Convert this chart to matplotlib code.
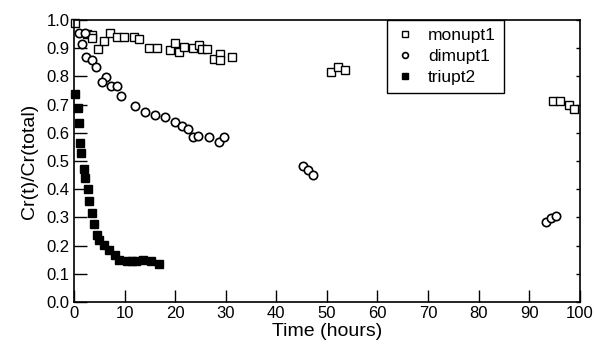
import matplotlib
matplotlib.use("Agg")
import matplotlib.pyplot as plt

plt.rcParams['font.family'] = ['Liberation Sans', 'DejaVu Sans']

# monupt1 (open squares)
mon_t = [0.2, 2.6, 3.6, 3.6, 4.7, 5.9, 7.1, 8.5, 9.9, 11.9, 12.8, 14.8, 16.4,
         19.0, 20.0, 20.8, 21.7, 23.5, 24.7, 25.3, 26.3, 27.7, 28.9, 28.9, 31.2,
         50.8, 52.2, 53.6, 94.7, 96.0, 97.8, 98.8]
mon_r = [0.99, 0.95, 0.947, 0.936, 0.897, 0.926, 0.954, 0.94, 0.94, 0.94, 0.933,
         0.90, 0.90, 0.894, 0.918, 0.887, 0.904, 0.90, 0.911, 0.897, 0.897, 0.862,
         0.879, 0.858, 0.869, 0.816, 0.833, 0.823, 0.713, 0.713, 0.699, 0.684]

# dimupt1 (open circles)
dim_t = [1.0, 2.2, 1.6, 2.4, 3.6, 4.3, 6.3, 5.5, 7.3, 8.5, 9.3, 12.1, 14.0, 16.0,
         18.0, 20.0, 21.3, 22.5, 23.5, 24.5, 26.7, 28.7, 29.6,
         45.3, 46.2, 47.2, 93.3, 94.3, 95.3]
dim_r = [0.954, 0.954, 0.915, 0.869, 0.858, 0.833, 0.798, 0.78, 0.766, 0.766, 0.73,
         0.695, 0.674, 0.663, 0.656, 0.638, 0.624, 0.613, 0.585, 0.589, 0.585,
         0.567, 0.585, 0.482, 0.468, 0.45, 0.284, 0.298, 0.305]

# triupt2 (filled squares)
tri_t = [0.2, 0.8, 1.0, 1.2, 1.4, 2.0, 2.2, 2.8, 3.0, 3.6, 4.0, 4.5, 4.9, 5.9,
         6.9, 8.1, 8.9, 10.5, 11.5, 12.3, 13.6, 15.2, 16.8]
tri_r = [0.738, 0.688, 0.635, 0.564, 0.528, 0.472, 0.44, 0.40, 0.358, 0.316,
         0.277, 0.238, 0.22, 0.202, 0.184, 0.167, 0.149, 0.145, 0.145, 0.145,
         0.149, 0.145, 0.135]

fig = plt.figure(figsize=(5.94, 3.48), dpi=100)
ax = fig.add_axes([0.1246, 0.132, 0.8514, 0.8105])

ax.plot(mon_t, mon_r, 's', ms=5.5, mfc='white', mec='black', mew=1.0,
        label='monupt1', clip_on=False)
ax.plot(dim_t, dim_r, 'o', ms=6, mfc='white', mec='black', mew=1.2,
        label='dimupt1', clip_on=False)
ax.plot(tri_t, tri_r, 's', ms=5.5, mfc='black', mec='black',
        label='triupt2', clip_on=False)

ax.set_xlim(0, 100)
ax.set_ylim(0, 1.0)
ax.set_xticks(range(0, 101, 10))
ax.set_yticks([i / 10 for i in range(11)])
ax.set_yticklabels([f"{i / 10:.1f}" for i in range(11)])
ax.tick_params(direction='in', length=9, width=1, labelsize=12, pad=3)
ax.tick_params(axis='y', right=True)
for t in ax.yaxis.get_major_ticks():
    t.tick2line.set_markersize(3)
for s in ax.spines.values():
    s.set_linewidth(1.2)

ax.set_xlabel('Time (hours)', fontsize=14, labelpad=1)
ax.set_ylabel('Cr(t)/Cr(total)', fontsize=14, labelpad=6)

leg = ax.legend(loc='upper left', bbox_to_anchor=(0.619, 1.0), fontsize=12.5,
                fancybox=False, framealpha=1, edgecolor='black',
                markerscale=0.7, handlelength=1.2, handletextpad=0.7,
                borderaxespad=0, labelspacing=0.35, borderpad=0.45)
leg.get_frame().set_linewidth(1.0)

fig.savefig('out.png', dpi=100)
